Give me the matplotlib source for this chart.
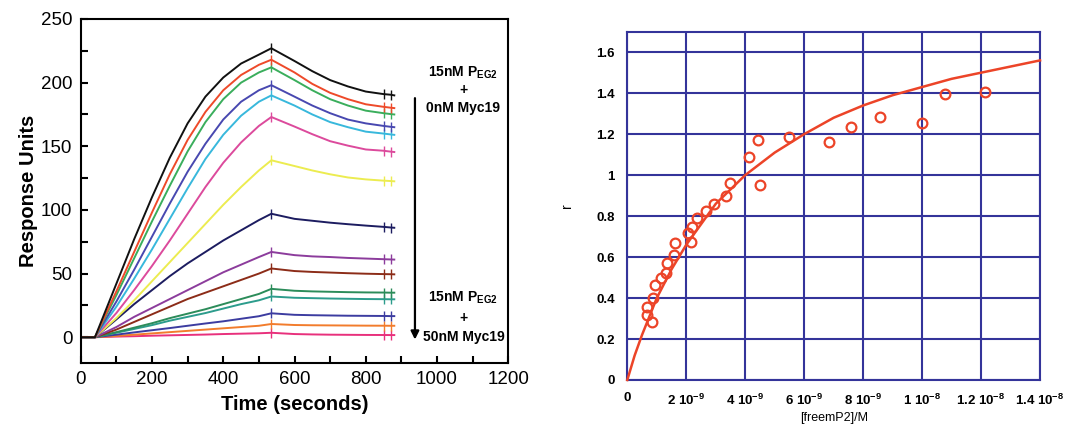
import matplotlib
matplotlib.use("Agg")
import matplotlib.pyplot as plt
from matplotlib.ticker import MultipleLocator, FixedLocator

plt.rcParams['font.family'] = ['Liberation Sans', 'DejaVu Sans']
plt.rcParams['mathtext.fontset'] = 'custom'
plt.rcParams['mathtext.rm'] = 'Liberation Sans'
plt.rcParams['mathtext.bf'] = 'Liberation Sans:bold'
plt.rcParams['mathtext.default'] = 'bf'

# ---------------- Left panel data (SPR sensorgrams) ----------------
time_s = [0, 40, 100, 150, 200, 250, 300, 350, 400, 450, 500, 535,
          600, 650, 700, 750, 800, 850, 870, 880]

black_ru   = [0, 0, 42, 77, 110, 141, 168, 189, 204, 215, 222, 227, 217, 209, 202, 197, 193, 191, 190.5, 190]
red_ru     = [0, 0, 36, 67, 98, 128, 155, 177, 194, 206, 214, 218, 208, 199, 192, 187, 183, 181, 180.3, 180]
green_ru   = [0, 0, 33, 62, 91, 119, 146, 169, 187, 200, 208, 212, 202, 194, 187, 182, 178, 176, 175.3, 175]
blue_ru    = [0, 0, 28, 53, 79, 105, 130, 152, 171, 185, 194, 198, 189, 182, 176, 171, 168, 166, 165.3, 165]
cyan_ru    = [0, 0, 24, 46, 69, 93, 117, 140, 159, 174, 185, 190, 182, 175, 169, 165, 161.5, 160, 159.3, 159]
magenta_ru = [0, 0, 19, 37, 56, 76, 97, 118, 137, 153, 166, 173, 165.5, 159.5, 154, 150.5, 147.5, 146.5, 145.8, 145.5]
yellow_ru  = [0, 0, 15, 29, 44, 59, 74, 89, 104, 118, 131, 139, 134.5, 131, 128, 125.5, 124, 123, 122.7, 122.5]
navy_ru    = [0, 0, 14, 26, 37, 48, 58, 67, 76, 84, 92, 97, 93, 91.5, 90, 88.8, 87.7, 86.7, 86.2, 86]
purple_ru  = [0, 0, 8, 16, 23, 30, 37, 44, 51, 57, 63, 67, 64.5, 63.5, 63, 62.3, 61.8, 61.3, 61.1, 61]
brown_ru   = [0, 0, 6, 12, 18, 24, 30, 35, 40, 45, 50, 54, 52, 51.3, 50.8, 50.3, 49.9, 49.6, 49.5, 49.4]
green2_ru  = [0, 0, 4, 7.5, 11, 15, 18.5, 22, 26, 30, 34, 38, 36.5, 36, 35.7, 35.4, 35.2, 35.1, 35, 35]
teal_ru    = [0, 0, 3.5, 6.5, 9.5, 13, 16, 19, 22.5, 26, 29, 32, 31, 30.7, 30.4, 30.2, 30, 29.9, 29.8, 29.8]
violet_ru  = [0, 0, 2, 3.8, 5.5, 7.2, 9, 10.8, 12.5, 14.5, 16.5, 18.8, 17.6, 17.3, 17.1, 16.9, 16.8, 16.7, 16.6, 16.6]
orange_ru  = [0, 0, 1, 2, 3, 4, 5, 6, 7, 8, 9, 10.4, 9.6, 9.4, 9.3, 9.2, 9.1, 9.05, 9, 9]
pink_ru    = [0, 0, 0.5, 0.8, 1.2, 1.5, 1.8, 2.1, 2.5, 2.8, 3.1, 3.5, 2.5, 2.2, 2.0, 1.9, 1.8, 1.75, 1.7, 1.7]

series = [
    (black_ru, '#111111'), (red_ru, '#ee4a2a'), (green_ru, '#3aae5c'),
    (blue_ru, '#4848b0'), (cyan_ru, '#38b8dc'), (magenta_ru, '#dc4a9c'),
    (yellow_ru, '#ecec50'), (navy_ru, '#1c1c60'), (purple_ru, '#8c3c9c'),
    (brown_ru, '#8c2c18'), (green2_ru, '#2c8c5a'), (teal_ru, '#2c9c8c'),
    (violet_ru, '#3c3ca0'), (orange_ru, '#f27c2c'), (pink_ru, '#e8307c'),
]

# ---------------- Right panel data (binding isotherm) ----------------
free_p2_e9 = [0.656, 0.656, 0.837, 0.859, 0.938, 1.131, 1.312, 1.334, 1.594, 1.606,
              2.069, 2.148, 2.182, 2.352, 2.657, 2.951, 3.347, 3.483, 4.116, 4.421,
              4.500, 5.495, 6.830, 7.576, 8.571, 9.984, 10.776, 12.13]
r_obs = [0.358, 0.317, 0.285, 0.399, 0.464, 0.496, 0.521, 0.569, 0.610, 0.670,
         0.716, 0.675, 0.748, 0.789, 0.827, 0.859, 0.898, 0.960, 1.090, 1.171,
         0.952, 1.185, 1.163, 1.237, 1.282, 1.253, 1.394, 1.404]
fit_x_e9 = [0, 0.25, 0.5, 1, 1.5, 2, 3, 4, 5, 6, 7, 8, 9, 10, 11, 12, 13, 14]
fit_r = [0, 0.12, 0.22, 0.40, 0.54, 0.66, 0.86, 1.0, 1.11, 1.20, 1.28, 1.34,
         1.39, 1.43, 1.47, 1.50, 1.53, 1.56]

x_tick_vals = [0, 2, 4, 6, 8, 10, 12, 14]
x_tick_labels = ['0', r'2 10$^{-9}$', r'4 10$^{-9}$', r'6 10$^{-9}$', r'8 10$^{-9}$',
                 r'1 10$^{-8}$', r'1.2 10$^{-8}$', r'1.4 10$^{-8}$']
y_tick_vals = [0, 0.2, 0.4, 0.6, 0.8, 1.0, 1.2, 1.4, 1.6]
y_tick_labels = ['0', '0.2', '0.4', '0.6', '0.8', '1', '1.2', '1.4', '1.6']

fig = plt.figure(figsize=(10.69, 4.24), dpi=100)

# ---------------- Left panel ----------------
ax1 = fig.add_axes([0.0755, 0.1446, 0.4, 0.8106])
mark_idx = [time_s.index(535), time_s.index(850), time_s.index(870)]
for vals, col in series[::-1]:
    ax1.plot(time_s, vals, color=col, lw=1.4, marker='|', markevery=mark_idx,
             markersize=7, markeredgewidth=1.0)
ax1.set_xlim(0, 1200)
ax1.set_ylim(-20, 250)
ax1.xaxis.set_major_locator(MultipleLocator(200))
ax1.xaxis.set_minor_locator(MultipleLocator(100))
ax1.yaxis.set_major_locator(MultipleLocator(50))
ax1.yaxis.set_minor_locator(MultipleLocator(25))
ax1.tick_params(which='both', direction='in', length=5, width=1.5, labelsize=13.5,
                top=False, right=False, pad=6)
for sp in ax1.spines.values():
    sp.set_linewidth(1.5)
ax1.set_xlabel('Time (seconds)', fontsize=14.5, fontweight='bold', labelpad=5)
ax1.set_ylabel('Response Units', fontsize=14.5, fontweight='bold', labelpad=2)

ax1.annotate('', xy=(938, -4), xytext=(938, 190),
             arrowprops=dict(arrowstyle='-|>', color='black', lw=1.6,
                             mutation_scale=12))
tkw = dict(ha='center', va='center', fontsize=10, fontweight='bold')
ax1.text(1074, 208, r'15nM P$_{\mathbf{EG2}}$', **tkw)
ax1.text(1074, 194, '+', **tkw)
ax1.text(1074, 180, '0nM Myc19', **tkw)
ax1.text(1074, 31, r'15nM P$_{\mathbf{EG2}}$', **tkw)
ax1.text(1074, 15, '+', **tkw)
ax1.text(1074, 0, '50nM Myc19', **tkw)

# ---------------- Right panel ----------------
navy = '#34349a'
ax2 = fig.add_axes([0.5868, 0.1038, 0.3861, 0.8214])
ax2.set_xlim(0, 14)
ax2.set_ylim(0, 1.7)
ax2.xaxis.set_major_locator(FixedLocator(x_tick_vals))
ax2.set_xticklabels(x_tick_labels)
ax2.yaxis.set_major_locator(FixedLocator(y_tick_vals))
ax2.set_yticklabels(y_tick_labels)
ax2.grid(True, color=navy, lw=1.5)
ax2.set_axisbelow(True)
for sp in ax2.spines.values():
    sp.set_color(navy)
    sp.set_linewidth(1.5)
ax2.tick_params(length=0, labelsize=9.5, pad=9)
for lab in ax2.get_xticklabels() + ax2.get_yticklabels():
    lab.set_fontweight('bold')
ax2.plot(fit_x_e9, fit_r, color='#ec4428', lw=1.8, zorder=3, clip_on=False)
ax2.plot(free_p2_e9, r_obs, linestyle='none', marker='o', markersize=7,
         markerfacecolor='none', markeredgecolor='#ec4428', markeredgewidth=1.6, zorder=4)
ax2.set_xlabel('[freemP2]/M', fontsize=9, labelpad=3)
ax2.set_ylabel('r', fontsize=10, labelpad=16)

fig.savefig('out.png', dpi=100)
